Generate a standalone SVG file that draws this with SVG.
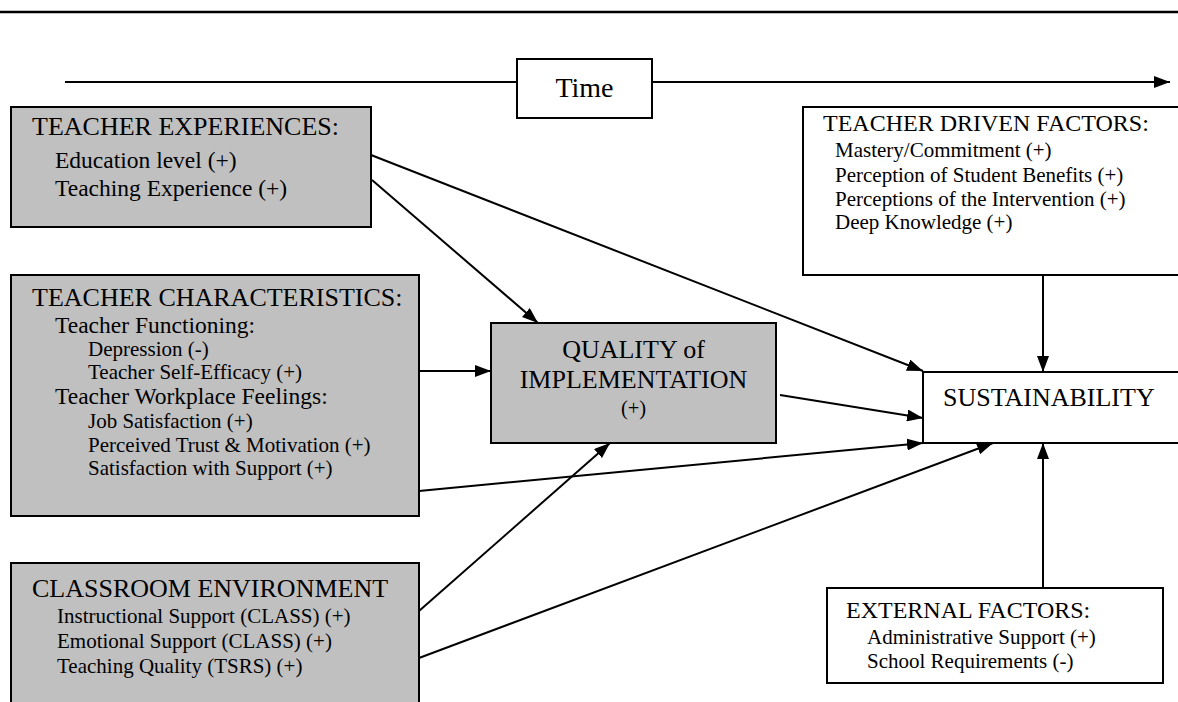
<svg xmlns="http://www.w3.org/2000/svg" width="1178" height="702" viewBox="0 0 1178 702">
<style>
.box{stroke:#000;stroke-width:2}
.g{fill:#c0c0c0}
.w{fill:#fff}
text{font-family:"Liberation Serif","Times New Roman",serif;fill:#000}
.h{font-size:26px}
.hr{font-size:24px}
.s1{font-size:23.5px}
.s2{font-size:21px}
.s3{font-size:20.5px}
.s4{font-size:21px}
.c{stroke:#000;stroke-width:2;fill:none}
</style>
<defs>
<marker id="ah" viewBox="0 0 16 12" refX="16" refY="6" markerWidth="16" markerHeight="12" markerUnits="userSpaceOnUse" orient="auto">
<path d="M0,0 L16,6 L0,12 z" fill="#000"/>
</marker>
</defs>
<rect width="1178" height="702" fill="#fff"/>
<line x1="0" y1="12" x2="1178" y2="12" stroke="#000" stroke-width="2.5"/>

<g id="connectors">
<line class="c" x1="65" y1="82" x2="1170" y2="82" marker-end="url(#ah)"/>
<line class="c" x1="371" y1="155" x2="923" y2="371" marker-end="url(#ah)"/>
<line class="c" x1="372" y1="180" x2="538" y2="323" marker-end="url(#ah)"/>
<line class="c" x1="419" y1="371" x2="491" y2="371" marker-end="url(#ah)"/>
<line class="c" x1="780" y1="395" x2="923" y2="418" marker-end="url(#ah)"/>
<line class="c" x1="419" y1="491" x2="923" y2="443" marker-end="url(#ah)"/>
<line class="c" x1="419" y1="611" x2="610" y2="443" marker-end="url(#ah)"/>
<line class="c" x1="419" y1="658" x2="993" y2="443" marker-end="url(#ah)"/>
<line class="c" x1="1043" y1="275" x2="1043" y2="372" marker-end="url(#ah)"/>
<line class="c" x1="1043" y1="588" x2="1043" y2="443" marker-end="url(#ah)"/>
</g>

<g id="time">
<rect class="box w" x="517" y="59" width="135" height="59"/>
<text x="584.5" y="97" font-size="28" text-anchor="middle">Time</text>
</g>

<g id="teacher-experiences">
<rect class="box g" x="11" y="107" width="360" height="120"/>
<text class="h" x="32" y="135">TEACHER EXPERIENCES:</text>
<text class="s1" x="55" y="168">Education level (+)</text>
<text class="s1" x="55" y="196">Teaching Experience (+)</text>
</g>

<g id="teacher-characteristics">
<rect class="box g" x="11" y="275" width="408" height="241"/>
<text class="h" x="32" y="306">TEACHER CHARACTERISTICS:</text>
<text class="s1" x="55" y="333">Teacher Functioning:</text>
<text class="s2" x="88" y="356">Depression (-)</text>
<text class="s2" x="88" y="379">Teacher Self-Efficacy (+)</text>
<text class="s1" x="55" y="404">Teacher Workplace Feelings:</text>
<text class="s2" x="88" y="428">Job Satisfaction (+)</text>
<text class="s2" x="88" y="452">Perceived Trust &amp; Motivation (+)</text>
<text class="s2" x="88" y="475">Satisfaction with Support (+)</text>
</g>

<g id="classroom-environment">
<rect class="box g" x="11" y="563" width="408" height="145"/>
<text class="h" x="32" y="597">CLASSROOM ENVIRONMENT</text>
<text class="s2" x="57" y="623">Instructional Support (CLASS) (+)</text>
<text class="s2" x="57" y="648">Emotional Support (CLASS) (+)</text>
<text class="s2" x="57" y="673">Teaching Quality (TSRS) (+)</text>
</g>

<g id="quality-of-implementation">
<rect class="box g" x="491" y="323" width="285" height="120"/>
<text class="h" x="633.5" y="358" text-anchor="middle">QUALITY of</text>
<text class="h" x="633.5" y="388" text-anchor="middle">IMPLEMENTATION</text>
<text class="s3" x="633.5" y="415" text-anchor="middle">(+)</text>
</g>

<g id="teacher-driven-factors">
<rect class="box w" x="803" y="107" width="378" height="168"/>
<text class="hr" x="823" y="131">TEACHER DRIVEN FACTORS:</text>
<text class="s4" x="835" y="157">Mastery/Commitment (+)</text>
<text class="s4" x="835" y="182">Perception of Student Benefits (+)</text>
<text class="s4" x="835" y="206">Perceptions of the Intervention (+)</text>
<text class="s4" x="835" y="229">Deep Knowledge (+)</text>
</g>

<g id="sustainability">
<rect class="box w" x="923" y="372" width="258" height="71"/>
<text class="h" x="943" y="406">SUSTAINABILITY</text>
</g>

<g id="external-factors">
<rect class="box w" x="827" y="588" width="336" height="95"/>
<text class="hr" x="846" y="618">EXTERNAL FACTORS:</text>
<text class="s4" x="867" y="644">Administrative Support (+)</text>
<text class="s4" x="867" y="668">School Requirements (-)</text>
</g>
</svg>
